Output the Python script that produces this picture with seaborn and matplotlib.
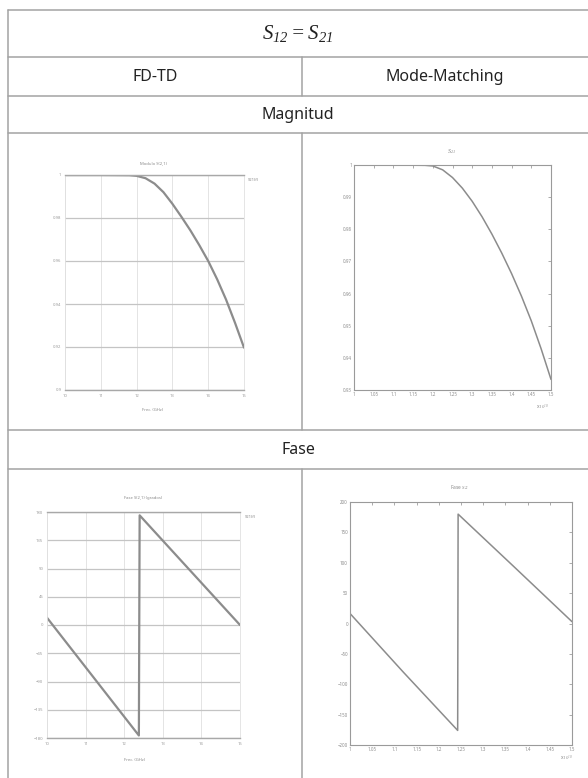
import matplotlib
matplotlib.use('Agg')
import matplotlib.pyplot as plt
from matplotlib.lines import Line2D
import seaborn as sns

sns.set_style('white')
plt.rcParams['font.family'] = ['Noto Sans', 'DejaVu Sans']
plt.rcParams['mathtext.fontset'] = 'custom'
plt.rcParams['mathtext.rm'] = 'Liberation Serif:italic'
plt.rcParams['mathtext.it'] = 'Liberation Serif:italic'

# data
# FD-TD magnitude |S21|, freq in GHz
fdtd_freq = [10, 11, 11.8, 12.0, 12.25, 12.5, 12.75, 13.0, 13.25, 13.5, 13.75,
             14.0, 14.25, 14.5, 14.75, 15]
fdtd_mag = [1.0, 1.0, 0.9999, 0.9996, 0.9985, 0.9960, 0.9920, 0.9866, 0.9806,
            0.9743, 0.9674, 0.9600, 0.9515, 0.9420, 0.9312, 0.9197]
fdtd_xticks = [10, 11, 12, 13, 14, 15]
fdtd_mag_yticks = [0.90, 0.92, 0.94, 0.96, 0.98, 1.0]

# Mode-Matching magnitude, freq in units of 1e10 Hz
mm_freq = [1.0, 1.1, 1.18, 1.2, 1.225, 1.25, 1.275, 1.3, 1.325, 1.35, 1.375, 1.4,
           1.425, 1.45, 1.475, 1.5]
mm_mag = [1.0, 1.0, 0.9999, 0.9997, 0.9985, 0.9961, 0.9928, 0.9887, 0.9839, 0.9785,
          0.9726, 0.9662, 0.9592, 0.9515, 0.9428, 0.9333]
mm_xticks = [1.0, 1.05, 1.1, 1.15, 1.2, 1.25, 1.3, 1.35, 1.4, 1.45, 1.5]
mm_xlabels = ['1', '1.05', '1.1', '1.15', '1.2', '1.25', '1.3', '1.35', '1.4', '1.45', '1.5']
mm_mag_yticks = [0.93, 0.94, 0.95, 0.96, 0.97, 0.98, 0.99, 1.0]

# phase (degrees)
fdtd_pfreq = [10, 12.38, 12.40, 15]
fdtd_phase = [11.6, -176, 174.7, 0]
fdtd_phase_yticks = [-180, -135, -90, -45, 0, 45, 90, 135, 180]
mm_pfreq = [1.0, 1.12, 1.2425, 1.2435, 1.37, 1.5]
mm_phase = [16.5, -80, -176, 180, 93, 3]
mm_phase_yticks = [-200, -150, -100, -50, 0, 50, 100, 150, 200]

W, H = 588, 778
fig = plt.figure(figsize=(W / 100, H / 100), dpi=100)


def box(l, t, r, b):
    return [l / W, 1 - b / H, (r - l) / W, (b - t) / H]


def hline(y, x0=8, x1=588):
    fig.add_artist(Line2D([x0 / W, x1 / W], [1 - y / H, 1 - y / H],
                          color='#a3a3a3', lw=1.1, transform=fig.transFigure))


def vline(x, y0, y1):
    fig.add_artist(Line2D([x / W, x / W], [1 - y0 / H, 1 - y1 / H],
                          color='#a3a3a3', lw=1.1, transform=fig.transFigure))


def ftext(x, y, s, **kw):
    fig.text(x / W, 1 - y / H, s, ha='center', va='center', **kw)


# table frame
hline(10)
for y in [57, 96, 133, 430, 469]:
    hline(y)
vline(8, 10, 778)
vline(302, 57, 96)
vline(302, 133, 430)
vline(302, 469, 778)

ftext(298, 33, r'$S_{12} = S_{21}$', fontsize=15, color='#222222')
ftext(155, 77, 'FD-TD', fontsize=11.5, color='#222222')
ftext(445, 77, 'Mode-Matching', fontsize=11.5, color='#222222')
ftext(298, 115, 'Magnitud', fontsize=11.5, color='#222222')
ftext(298, 450, 'Fase', fontsize=11.5, color='#222222')

tiny = dict(fontsize=3, color='#8a8a8a')


def fdtd_style(ax, yticks):
    ax.set_xlim(10, 15)
    ax.set_ylim(yticks[0], yticks[-1])
    ax.set_xticks(fdtd_xticks)
    ax.set_yticks(yticks)
    ax.tick_params(labelsize=3, colors='#9a9a9a', length=1.2, width=0.4, pad=1.5)
    ax.grid(axis='y', color='#c4c4c4', lw=0.9)
    ax.grid(axis='x', color='#e4e4e4', lw=0.7)
    for side in ['left', 'right']:
        ax.spines[side].set_color('#e0e0e0')
        ax.spines[side].set_linewidth(0.6)
    for side in ['top', 'bottom']:
        ax.spines[side].set_color('#a8a8a8')
        ax.spines[side].set_linewidth(1.0)
    ax.set_xlabel('')
    ax.set_ylabel('')


def mm_style(ax, xlim, yticks, ylim):
    ax.set_xlim(*xlim)
    ax.set_ylim(*ylim)
    ax.set_xticks(mm_xticks)
    ax.set_xticklabels(mm_xlabels)
    ax.set_yticks(yticks)
    ax.tick_params(labelsize=3.2, colors='#8a8a8a', direction='in', length=2,
                   width=0.5, top=True, right=True, pad=1.5)
    for side in ax.spines:
        ax.spines[side].set_color('#9a9a9a')
        ax.spines[side].set_linewidth(0.8)
    ax.set_xlabel('')
    ax.set_ylabel('')


# FD-TD magnitude
ax1 = fig.add_axes(box(65, 175, 244, 390))
sns.lineplot(x=fdtd_freq, y=fdtd_mag, ax=ax1, color='#8c8c8c', lw=1.6,
             estimator=None, sort=False)
fdtd_style(ax1, fdtd_mag_yticks)
ax1.set_yticklabels(['0.9', '0.92', '0.94', '0.96', '0.98', '1'])
ftext(153, 163, 'Modulo S(2,1)', **tiny)
ftext(153, 410, 'Frec. (GHz)', **tiny)
ftext(253, 180, 'S21(f)', **tiny)

# Mode-Matching magnitude
ax2 = fig.add_axes(box(354, 165, 551, 390))
sns.lineplot(x=mm_freq, y=mm_mag, ax=ax2, color='#8c8c8c', lw=1.1,
             estimator=None, sort=False)
mm_style(ax2, (1.0, 1.5), mm_mag_yticks, (0.93, 1.0))
ax2.set_yticklabels(['0.93', '0.94', '0.95', '0.96', '0.97', '0.98', '0.99', '1'])
ftext(452, 152, r'$S_{21}$', fontsize=4.5, color='#8a8a8a')
ftext(542, 407, r'x$10^{10}$', fontsize=3.5, color='#8a8a8a')

# FD-TD phase
ax3 = fig.add_axes(box(47, 512, 240, 738))
sns.lineplot(x=fdtd_pfreq, y=fdtd_phase, ax=ax3, color='#8c8c8c', lw=1.6,
             estimator=None, sort=False)
fdtd_style(ax3, fdtd_phase_yticks)
ftext(143, 498, 'Fase S(2,1) (grados)', **tiny)
ftext(135, 760, 'Frec. (GHz)', **tiny)
ftext(250, 517, 'S21(f)', **tiny)

# Mode-Matching phase
ax4 = fig.add_axes(box(350, 502, 572, 745))
sns.lineplot(x=mm_pfreq, y=mm_phase, ax=ax4, color='#8c8c8c', lw=1.1,
             estimator=None, sort=False)
mm_style(ax4, (1.0, 1.5), mm_phase_yticks, (-200, 200))
ftext(460, 488, r'Fase $S_{21}$', fontsize=3.5, color='#8a8a8a')
ftext(566, 758, r'x$10^{10}$', fontsize=3.5, color='#8a8a8a')

plt.savefig('out.png', dpi=100)
